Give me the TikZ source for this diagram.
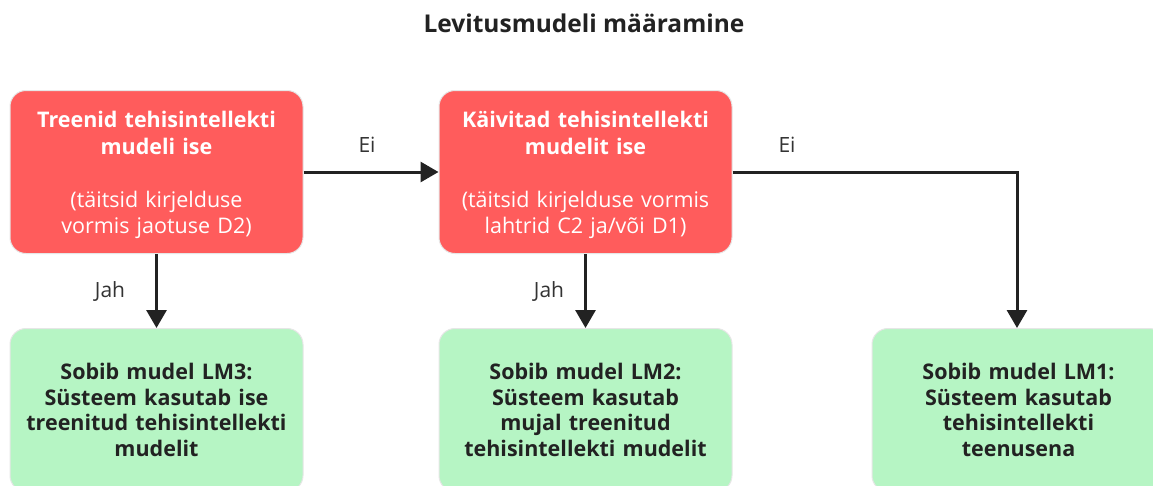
\documentclass[tikz,border=0pt]{standalone}
\usepackage{fontspec}
\setmainfont{Open Sans}
\usetikzlibrary{arrows.meta}
\definecolor{redfill}{HTML}{FF5C5C}
\definecolor{greenfill}{HTML}{B6F5C4}
\definecolor{edgegray}{HTML}{E6E6E6}
\definecolor{ink}{HTML}{222222}
\definecolor{labelink}{HTML}{333333}
\newcommand{\tallstrut}{\rule{0pt}{23pt}}
\begin{document}
\begin{tikzpicture}[x=1pt,y=-1pt,
  box/.style={draw=edgegray, line width=1pt, rounded corners=16pt,
    minimum width=293pt, minimum height=163pt, inner sep=0pt,
    align=center, text width=285pt},
  decision/.style={box, fill=redfill, text=white,
    font=\fontsize{21.5}{26.5}\selectfont},
  outcome/.style={box, fill=greenfill, text=ink,
    font=\fontsize{21.5}{25.5}\selectfont\bfseries},
  flow/.style={draw=ink, line width=3pt,
    -{Triangle[width=20pt,length=18pt]}},
  branch/.style={text=labelink, font=\fontsize{21}{24}\selectfont},
]
\useasboundingbox (0,0) rectangle (1153,485);
\clip (0,0) rectangle (1153,485);
\fill[white] (0,0) rectangle (1153,485);

\node[font=\fontsize{24.5}{28}\selectfont\bfseries, text=ink] (title) at (584,23)
  {Levitusmudeli määramine};

\node[decision] (train) at (156.5,172)
  {\tallstrut\textbf{Treenid tehisintellekti}\\\textbf{mudeli ise}\\[26.5pt]
   (täitsid kirjelduse\\vormis jaotuse D2)};
\node[decision] (run) at (585.5,172)
  {\tallstrut\textbf{Käivitad tehisintellekti}\\\textbf{mudelit ise}\\[26.5pt]
   (täitsid kirjelduse vormis\\lahtrid C2 ja/või D1)};

\node[outcome] (lm3) at (156.5,410)
  {Sobib mudel LM3:\\Süsteem kasutab ise\\treenitud tehisintellekti\\mudelit};
\node[outcome] (lm2) at (585.5,410)
  {Sobib mudel LM2:\\Süsteem kasutab\\mujal treenitud\\tehisintellekti mudelit};
\node[outcome, text width=270pt] (lm1) at (1018.5,410)
  {Sobib mudel LM1:\\Süsteem kasutab\\tehisintellekti\\teenusena};

\coordinate (bend) at (1017,172);

\draw[flow] (train.south) -- (lm3.north);
\draw[flow] (run.south) -- (lm2.north);
\draw[flow] (train.east) -- (run.west);
\draw[flow] (run.east) -- (bend) -- (bend |- lm1.north);

\node[branch] (ei1) at (367,145) {Ei};
\node[branch] (ei2) at (787,145) {Ei};
\node[branch] (jah1) at (110,291) {Jah};
\node[branch] (jah2) at (549,291) {Jah};
\end{tikzpicture}
\end{document}
